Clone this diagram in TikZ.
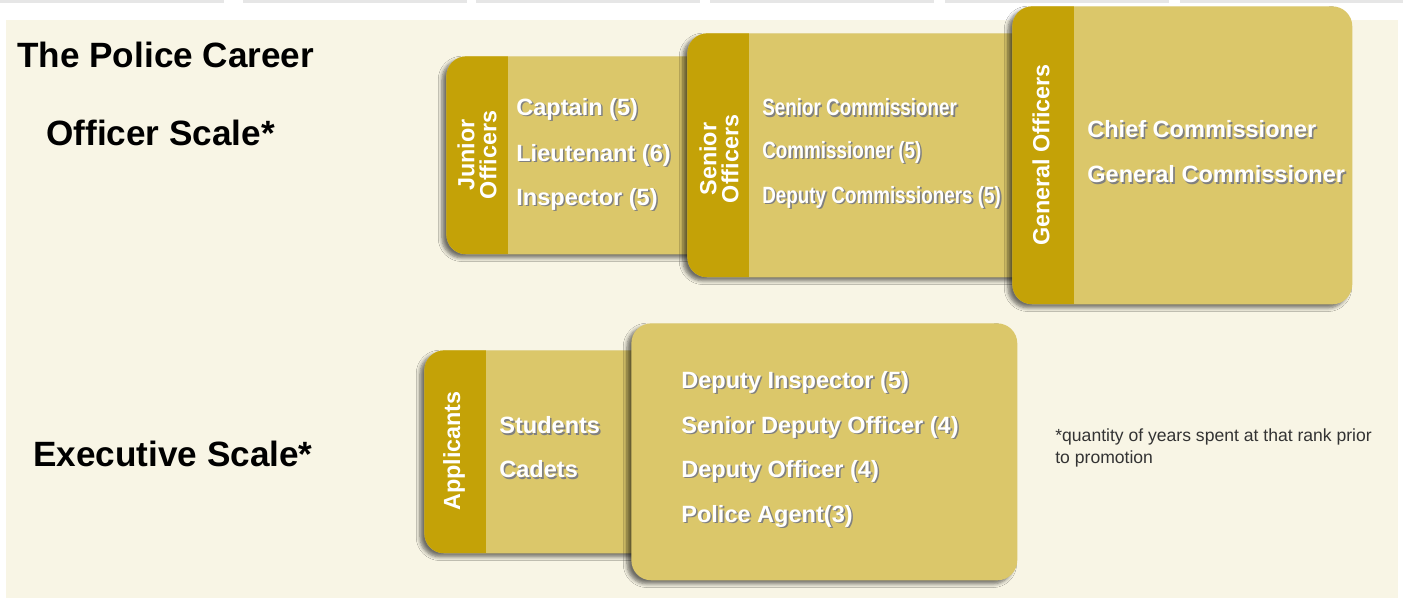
\documentclass[tikz,border=0pt]{standalone}
\usepackage{fontspec}
\setmainfont{Liberation Sans}
\newfontfamily\narrowfont[FakeStretch=0.8]{Liberation Sans}
\usepackage{xcolor}
\definecolor{cream}{HTML}{F8F5E5}
\definecolor{tabgold}{HTML}{C4A207}
\definecolor{panelgold}{HTML}{DBC76A}
\definecolor{stripgray}{HTML}{E6E6E6}
\usetikzlibrary{shadows.blur}
\newcommand{\shadowtext}[1]{\makebox[0pt][l]{\kern0.9pt\raisebox{-0.9pt}{\color{black!50}#1}}#1}

\begin{document}
\begin{tikzpicture}[x=0.02cm,y=-0.02cm,
    panel/.style={fill=panelgold,rounded corners=0.4cm,inner sep=0pt,anchor=north west,
      blur shadow={shadow xshift=-2.5pt,shadow yshift=-2pt,shadow opacity=55,shadow blur steps=6}},
    withtab/.style={path picture={\fill[tabgold,sharp corners] (path picture bounding box.north west) rectangle ([xshift=1.24cm]path picture bounding box.south west);}},
    item/.style={anchor=west,inner sep=0pt,text=white,font=\bfseries\fontsize{13.4}{16}\selectfont},
    tablabel/.style={rotate=90,text=white,align=center,inner sep=0pt,font=\bfseries\fontsize{13.3}{12.5}\selectfont},
    heading/.style={anchor=west,inner sep=0pt,font=\bfseries\fontsize{20}{24}\selectfont}]
  \useasboundingbox (0,0) rectangle (1403,599);
  % page background
  \fill[white] (0,0) rectangle (1403,599);
  \foreach \s in {0,243,476,710,945,1180}
    \fill[stripgray] (\s,0) rectangle (\s+224,3);
  \fill[cream] (6,20) rectangle (1398,598);

  % headings
  \node[heading] (title) at (17,55) {The Police Career};
  \node[heading] (officerscale) at (46,133) {Officer Scale*};
  \node[heading] (execscale) at (33,454) {Executive Scale*};

  % Officer scale
  \node[panel,withtab,minimum width=5.48cm,minimum height=3.96cm] (junior) at (446,56) {};
  \node[tablabel] (juniorlbl) at (477,155) {Junior\\Officers};
  \node[item] (captain) at (516,110) {\shadowtext{Captain (5)}};
  \node[item] (lieutenant) at (516,156) {\shadowtext{Lieutenant (6)}};
  \node[item] (inspector) at (516,200) {\shadowtext{Inspector (5)}};

  \node[panel,withtab,minimum width=7.06cm,minimum height=4.88cm] (senior) at (687,33) {};
  \node[tablabel] (seniorlbl) at (719,159) {Senior\\Officers};
  \node[item,font=\narrowfont\bfseries\fontsize{13.4}{16}\selectfont] (seniorcomm) at (762,108) {\shadowtext{Senior Commissioner}};
  \node[item,font=\narrowfont\bfseries\fontsize{13.4}{16}\selectfont] (commissioner) at (762,153) {\shadowtext{Commissioner (5)}};
  \node[item,font=\narrowfont\bfseries\fontsize{13.4}{16}\selectfont] (deputycomm) at (762,198) {\shadowtext{Deputy Commissioners (5)}};

  \node[panel,withtab,minimum width=6.8cm,minimum height=5.96cm] (general) at (1012,6) {};
  \node[tablabel] (generallbl) at (1041,155) {General Officers};
  \node[item] (chiefcomm) at (1087,130) {\shadowtext{Chief Commissioner}};
  \node[item] (generalcomm) at (1087,175) {\shadowtext{General Commissioner}};

  % Executive scale
  \node[panel,withtab,minimum width=4.72cm,minimum height=4.06cm] (applicants) at (424,350) {};
  \node[tablabel] (applicantslbl) at (454,451) {Applicants};
  \node[item] (students) at (499,426) {\shadowtext{Students}};
  \node[item] (cadets) at (499,470) {\shadowtext{Cadets}};

  \node[panel,minimum width=7.72cm,minimum height=5.14cm] (executive) at (631,323) {};
  \node[item] (deputyinsp) at (681,383) {\shadowtext{Deputy Inspector (5)}};
  \node[item] (seniordeputy) at (681,428) {\shadowtext{Senior Deputy Officer (4)}};
  \node[item] (deputyoff) at (681,472) {\shadowtext{Deputy Officer (4)}};
  \node[item] (agent) at (681,517) {\shadowtext{Police Agent(3)}};

  % footnote
  \node[anchor=base west,align=left,inner sep=0pt,text=black!80,font=\fontsize{10}{12}\selectfont] (note) at (1055,463) {*quantity of years spent at that rank prior\\to promotion};
\end{tikzpicture}
\end{document}
